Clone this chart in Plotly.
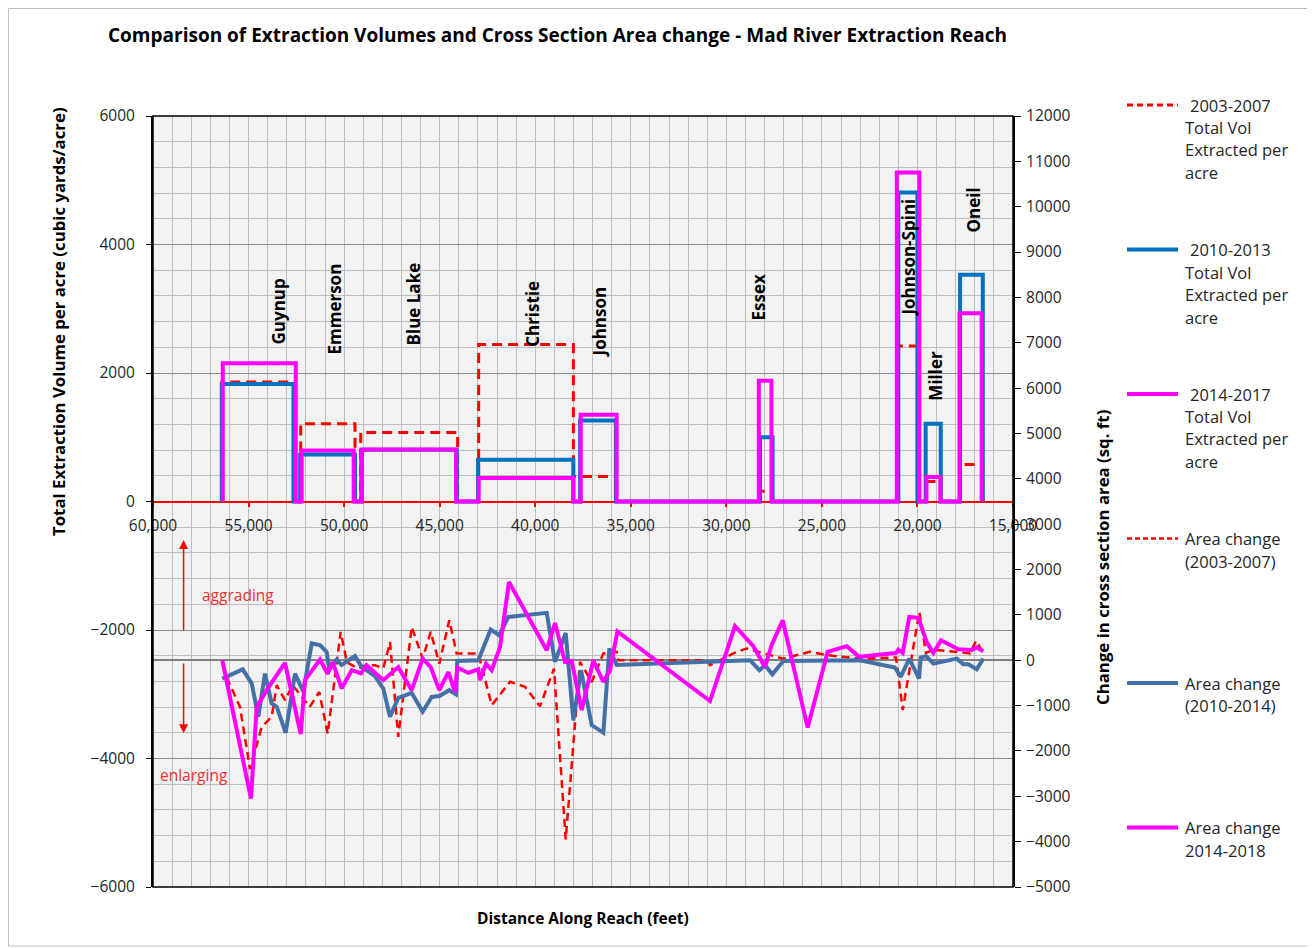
import plotly.graph_objects as go

# ---------------- data ----------------
sites = ["Guynup", "Emmerson", "Blue Lake", "Christie", "Johnson", "Essex",
         "Johnson-Spini", "Miller", "Oneil"]

# 2003-2007 total volume extracted per acre (left axis)
ext0307_start = [56400, 52270, 49130, 42960, 38005, 28240, 21000, 19570, 17770]
ext0307_end = [52650, 49430, 44060, 38005, 35760, 27580, 20000, 18780, 16580]
ext0307_val = [1860, 1210, 1075, 2445, 390, 160, 2420, 310, 575]

# 2010-2013 total volume extracted per acre
ext1013_start = [56400, 52300, 49100, 42990, 37650, 28240, 21000, 19570, 17770]
ext1013_end = [52650, 49430, 44100, 38005, 35780, 27580, 20000, 18780, 16580]
ext1013_val = [1830, 730, 805, 650, 1260, 1000, 4810, 1210, 3530]

# 2014-2017 total volume extracted per acre
ext1417_start = [56350, 52220, 49060, 42960, 37620, 28300, 21080, 19530, 17800]
ext1417_end = [52530, 49500, 44140, 38005, 35740, 27640, 19900, 18800, 16640]
ext1417_val = [2150, 795, 810, 365, 1350, 1880, 5120, 380, 2930]

# Area change 2003-2007 (right axis)
area0307_x = [56147, 55447, 54924, 54574, 54312, 53789, 53527, 53093, 52693, 51800,
              51300, 50860, 50180, 49850, 49250, 48860, 48384, 47950, 47599, 47166,
              46464, 45888, 45470, 45017, 44497, 44110, 42977, 42278, 41320, 40535,
              39750, 39017, 38405, 37656, 37044, 36435, 35737, 35649, 31029, 30854,
              29634, 28936, 27019, 25624, 24664, 23007, 21121, 20771, 19903, 19552,
              19166, 17248, 16934, 16636]
area0307_y = [-380, -1030, -2400, -1835, -1470, -1250, -550, -880, -550, -1030,
              -700, -1620, 625, -50, -180, -110, -110, -180, 400, -1690,
              735, 35, 625, -75, 880, 150, 150, -990, -475, -585,
              -1015, -185, -3950, -35, -480, 150, 185, 0, 0, -110,
              150, 260, 35, 185, 110, 35, 60, -1100, 1065, 160,
              235, 150, 430, 220]

# Area change 2010-2014
area1014_x = [56374, 55306, 54836, 54490, 54140, 53789, 53527, 53057, 52570, 52135,
              51696, 51262, 50913, 50775, 50387, 50127, 49430, 49080, 48384, 47950,
              47599, 47166, 46464, 45888, 45417, 45020, 44497, 44145, 44076, 42977,
              42331, 41880, 41410, 39399, 38965, 38405, 38005, 37604, 37044, 36435,
              36121, 35737, 28760, 28272, 27977, 27595, 27019, 23007, 21175, 20877,
              20425, 19917, 19829, 19552, 19166, 17942, 17596, 17334, 16899, 16553]
area1014_y = [-405, -200, -510, -1245, -295, -955, -1025, -1600, -295, -695,
              370, 335, 185, -205, 15, -105, 90, -145, -350, -625,
              -1245, -830, -720, -1135, -810, -790, -660, -750, -15, 0,
              675, 550, 955, 1045, -35, 600, -1325, -220, -1430, -1600,
              260, -105, 0, -220, -110, -310, -15, 0, -160, -365,
              35, -405, 60, 90, -75, 35, -90, -90, -200, 35]

# Area change 2014-2018
area1418_x = [56374, 54872, 54574, 54050, 53093, 52272, 52046, 51262, 50864, 50597,
              50127, 49604, 49116, 48822, 47950, 47166, 46464, 45888, 45470, 45017,
              44546, 44197, 44076, 43500, 42977, 42889, 42575, 42278, 41843, 41372,
              39399, 38965, 38442, 38092, 37569, 36958, 36435, 36085, 35700, 30854,
              29546, 28587, 27977, 27628, 27052, 25744, 24700, 23704, 23041, 21121,
              21001, 20771, 20425, 19954, 19514, 19166, 18764, 17858, 17160, 16899,
              16553]
area1418_y = [0, -3050, -1030, -660, -60, -1630, -440, 15, -300, -40,
              -620, -220, -290, -110, -440, -150, -660, 35, -150, -660,
              -260, -700, -160, -280, -200, -440, -75, -220, 290, 1725,
              220, 820, -40, -15, -1100, 0, -480, -220, 635, -900,
              750, 310, -150, 335, 880, -1485, 185, 310, 75, 160,
              235, 160, 955, 935, 400, 160, 440, 240, 225, 280,
              200]

# site label anchor points (distance, left-axis value)
label_x = [53444, 50513, 46380, 40184, 36646, 28327, 20478, 19029, 17077]
label_y = [2962, 2993, 3071, 2916, 2791, 3180, 3802, 1959, 4533]

legend_names = [
    ["2003-2007", "Total Vol", "Extracted per", "acre"],
    ["2010-2013", "Total Vol", "Extracted per", "acre"],
    ["2014-2017", "Total Vol", "Extracted per", "acre"],
    ["Area change", "(2003-2007)"],
    ["Area change", "(2010-2014)"],
    ["Area change", "2014-2018"],
]

# ---------------- styling ----------------
FONT = "'Open Sans', Lato, sans-serif"
RED = "#FF0000"
BLUE = "#0070C0"
MAGENTA = "#FF00FF"
STEEL = "#4470A8"

OFF = 8                      # page body margin of the html page
PAGE_W, PAGE_H = 1315, 948
W, H = PAGE_W - OFF, PAGE_H - OFF
L, R, T, B = 153, 1013, 116, 887   # plot area in page pixels


def px_x(p):
    return (p - L) / (R - L)


def px_y(p):
    return (B - p) / (B - T)


def steps(starts, ends, vals):
    xs, ys = [], []
    for s, e, v in zip(starts, ends, vals):
        xs += [s, s, e, e]
        ys += [0, v, v, 0]
    return xs, ys


fig = go.Figure()

styles = [
    (ext0307_start, ext0307_end, ext0307_val, RED, 3, "10px,6px"),
    (ext1013_start, ext1013_end, ext1013_val, BLUE, 4, "solid"),
    (ext1417_start, ext1417_end, ext1417_val, MAGENTA, 4, "solid"),
]
names_ext = ["2003-2007 Total Vol Extracted per acre",
             "2010-2013 Total Vol Extracted per acre",
             "2014-2017 Total Vol Extracted per acre"]
for (st, en, va, col, wd, dash), nm in zip(styles, names_ext):
    xs, ys = steps(st, en, va)
    fig.add_trace(go.Scatter(x=xs, y=ys, mode="lines", name=nm,
                             line=dict(color=col, width=wd, dash=dash),
                             showlegend=False, yaxis="y"))

area_styles = [
    (area0307_x, area0307_y, RED, 2.5, "8px,5px", "Area change (2003-2007)"),
    (area1014_x, area1014_y, STEEL, 4, "solid", "Area change (2010-2014)"),
    (area1418_x, area1418_y, MAGENTA, 4, "solid", "Area change 2014-2018"),
]
for xs, ys, col, wd, dash, nm in area_styles:
    fig.add_trace(go.Scatter(x=xs, y=ys, mode="lines", name=nm,
                             line=dict(color=col, width=wd, dash=dash),
                             showlegend=False, yaxis="y2"))

annotations = []
# site labels
for s, lx, ly in zip(sites, label_x, label_y):
    annotations.append(dict(x=lx, y=ly, xref="x", yref="y", text=s, showarrow=False,
                            xanchor="center", yanchor="middle",
                            textangle=-90, font=dict(family=FONT, size=17, color="#000000",
                                                     weight="bold")))


def centered(xp, yp, text, size, color="#000000", bold=True, angle=0):
    return dict(x=px_x(xp), y=px_y(yp), xref="paper", yref="paper", text=text,
                showarrow=False, xanchor="center", yanchor="middle", textangle=angle,
                font=dict(family=FONT, size=size, color=color,
                          weight="bold" if bold else "normal"))


# title and axis titles
annotations.append(centered(557, 35,
                            "Comparison of Extraction Volumes and Cross Section Area change - Mad River Extraction Reach",
                            19))
annotations.append(centered(58, 322, "Total Extraction Volume per acre (cubic yards/acre)", 16.8, angle=-90))
annotations.append(centered(1102, 557, "Change in cross section area (sq. ft)", 16.8, angle=-90))
annotations.append(centered(583, 918, "Distance Along Reach (feet)", 15.5))

# aggrading / enlarging arrows and labels
annotations.append(dict(x=58400, y=2650, ax=58400, ay=620, xref="x", yref="y2", axref="x", ayref="y2",
                        text="", showarrow=True, arrowhead=2, arrowsize=1.2, arrowwidth=1.5, arrowcolor=RED))
annotations.append(dict(x=58400, y=-1610, ax=58400, ay=-40, xref="x", yref="y2", axref="x", ayref="y2",
                        text="", showarrow=True, arrowhead=2, arrowsize=1.2, arrowwidth=1.5, arrowcolor=RED))
annotations.append(centered(238, 595, "aggrading", 15.5, color="#F03030", bold=False))
annotations.append(centered(194, 775, "enlarging", 15.5, color="#F03030", bold=False))

shapes = []
# legend (drawn manually to reproduce the evenly spaced Excel legend)
legend_cols = [RED, BLUE, MAGENTA, RED, STEEL, MAGENTA]
legend_dash = ["6px,4px", "solid", "solid", "5px,3px", "solid", "solid"]
legend_wid = [3, 4, 4, 2.5, 4, 4]
item_top = 105
item_gap = 144.5
line_gap = 22.5
for i, lines in enumerate(legend_names):
    yc = item_top + i * item_gap
    shapes.append(dict(type="line", xref="paper", yref="paper",
                       x0=px_x(1127), x1=px_x(1178), y0=px_y(yc), y1=px_y(yc),
                       line=dict(color=legend_cols[i], width=legend_wid[i], dash=legend_dash[i])))
    for j, t in enumerate(lines):
        xoff = 1188 if (j == 0 and i < 3) else 1183
        annotations.append(dict(x=px_x(xoff), y=px_y(yc + j * line_gap), xref="paper", yref="paper",
                                text=t, showarrow=False, xanchor="left", yanchor="middle",
                                font=dict(family=FONT, size=16.5, color="#262626")))

# plot frame
shapes.append(dict(type="rect", xref="paper", yref="paper", x0=0, x1=1, y0=0, y1=1,
                   line=dict(color="#000000", width=1.5), layer="above"))
# chart outer border
shapes.append(dict(type="rect", xref="paper", yref="paper", x0=px_x(OFF + 0.5), x1=px_x(1313),
                   y0=px_y(946), y1=px_y(OFF + 0.5), line=dict(color="#BFBFBF", width=1), layer="below"))

fig.update_layout(
    width=W, height=H,
    margin=dict(l=L - OFF, r=OFF + W - R, t=T - OFF, b=OFF + H - B, pad=0),
    paper_bgcolor="white", plot_bgcolor="#F2F2F2",
    font=dict(family=FONT, size=15, color="#262626"),
    showlegend=False,
    xaxis=dict(range=[60000, 15000], dtick=5000, tick0=0, tickformat=",d",
               showgrid=True, gridcolor="#BFBFBF", gridwidth=1,
               minor=dict(dtick=1000, showgrid=True, gridcolor="#BFBFBF", gridwidth=1),
               anchor="free", position=0.5, showline=True, linecolor=RED, linewidth=1.5,
               ticks="outside", ticklen=5, tickcolor=RED, tickwidth=1.5,
               tickfont=dict(family=FONT, size=15.5, color="#262626"),
               ticklabelstandoff=5, zeroline=False, layer="below traces"),
    yaxis=dict(range=[-6000, 6000], dtick=2000, showgrid=True, gridcolor="#8C8C8C", gridwidth=1.2,
               minor=dict(dtick=400, showgrid=True, gridcolor="#BFBFBF", gridwidth=1),
               showline=True, linecolor="#000000", linewidth=2, ticks="outside", ticklen=5,
               tickcolor="#000000", zeroline=False, ticklabelstandoff=8, tickformat="d",
               tickfont=dict(family=FONT, size=15.5, color="#262626")),
    yaxis2=dict(range=[-5000, 12000], dtick=1000, overlaying="y", side="right",
                showgrid=False, zeroline=True, zerolinecolor="#808080", zerolinewidth=1.5,
                showline=True, linecolor="#000000", linewidth=2, ticks="outside", ticklen=6,
                tickcolor="#000000", ticklabelstandoff=2, tickformat="d",
                tickfont=dict(family=FONT, size=15.5, color="#262626")),
    annotations=annotations,
    shapes=shapes,
)

fig.write_html("out.html")
